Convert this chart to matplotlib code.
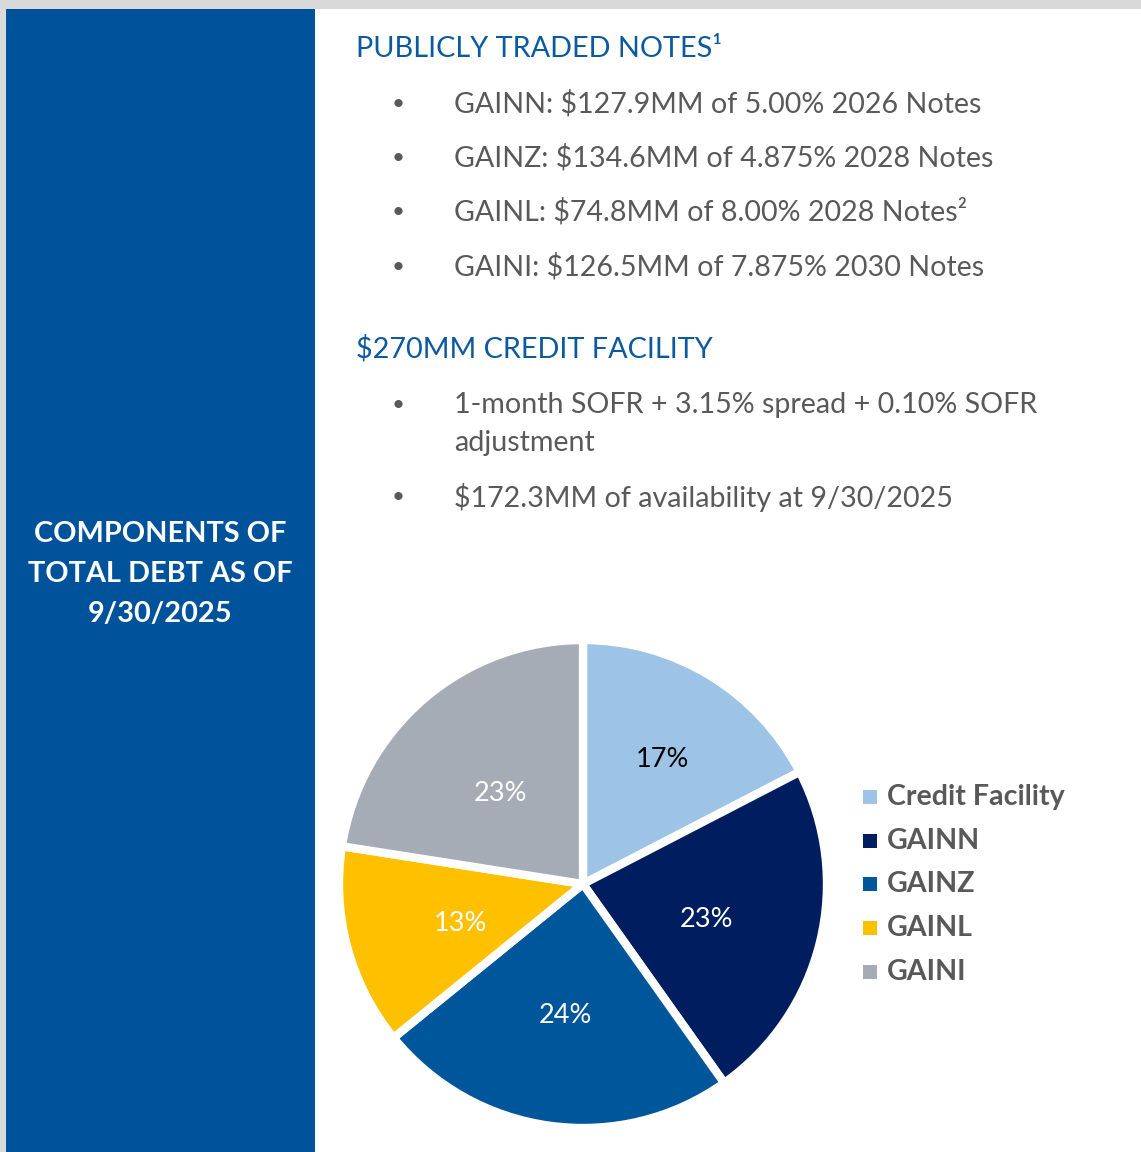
import matplotlib
matplotlib.use("Agg")
import matplotlib.pyplot as plt
from matplotlib.patches import Rectangle

W, H = 1141, 1152
DPI = 100

# ---- data ----
categories = ["Credit Facility", "GAINN", "GAINZ", "GAINL", "GAINI"]
amounts_mm = [97.7, 127.9, 134.6, 74.8, 126.5]
colors = ["#9DC3E6", "#001E5F", "#00569A", "#FFC000", "#A5ACB5"]
pct_colors = ["#000000", "#FFFFFF", "#FFFFFF", "#FFFFFF", "#FFFFFF"]

notes_header = "PUBLICLY TRADED NOTES\u00b9"
notes_bullets = [
    "GAINN: $127.9MM of 5.00% 2026 Notes",
    "GAINZ: $134.6MM of 4.875% 2028 Notes",
    "GAINL: $74.8MM of 8.00% 2028 Notes\u00b2",
    "GAINI: $126.5MM of 7.875% 2030 Notes",
]
credit_header = "$270MM CREDIT FACILITY"
credit_bullets = [
    "1-month SOFR + 3.15% spread + 0.10% SOFR\nadjustment",
    "$172.3MM of availability at 9/30/2025",
]
side_title = "COMPONENTS OF\nTOTAL DEBT AS OF\n9/30/2025"

FONT = ["Lato", "DejaVu Sans"]
plt.rcParams["font.family"] = FONT

BLUE = "#00539B"
GRAY_TXT = "#595959"

fig = plt.figure(figsize=(W / DPI, H / DPI), dpi=DPI)
fig.patch.set_facecolor("white")

def px(x, y):
    return x / W, 1 - y / H

# frame: gray top band and left edge
fig.patches.append(Rectangle((0, 1 - 9 / H), 1, 9 / H, transform=fig.transFigure,
                             facecolor="#D9D9D9", edgecolor="none", zorder=0))
fig.patches.append(Rectangle((0, 0), 6 / W, 1, transform=fig.transFigure,
                             facecolor="#D9D9D9", edgecolor="none", zorder=0))
# blue side panel
fig.patches.append(Rectangle((6 / W, 0), (315 - 6) / W, 1 - 9 / H, transform=fig.transFigure,
                             facecolor=BLUE, edgecolor="none", zorder=1))

fig.text(*px(160, 574), side_title, color="white", fontsize=20.8, fontweight="bold",
         ha="center", va="center", linespacing=1.66, zorder=3)

# headers and bullets
TS = 20.6
fig.text(*px(356, 49), notes_header, color="#0B5AA0", fontsize=20.8, ha="left", va="center")
ys = [104, 158, 212, 267]
for y, t in zip(ys, notes_bullets):
    fig.text(*px(398, y), "\u2022", color=GRAY_TXT, fontsize=16, ha="center", va="center")
    fig.text(*px(454, y), t, color=GRAY_TXT, fontsize=TS, ha="left", va="center")

fig.text(*px(356, 349), credit_header, color="#0B5AA0", fontsize=20.8, ha="left", va="center")
fig.text(*px(398, 405), "\u2022", color=GRAY_TXT, fontsize=16, ha="center", va="center")
fig.text(*px(454, 392), credit_bullets[0], color=GRAY_TXT, fontsize=TS, ha="left", va="top",
         linespacing=1.55)
fig.text(*px(398, 497), "\u2022", color=GRAY_TXT, fontsize=16, ha="center", va="center")
fig.text(*px(454, 497), credit_bullets[1], color=GRAY_TXT, fontsize=TS, ha="left", va="center")

# pie
cx, cy, R = 583, 884, 244
ax = fig.add_axes([(cx - R) / W, (H - cy - R) / H, 2 * R / W, 2 * R / H])
wedges, texts, autotexts = ax.pie(
    amounts_mm, colors=colors, startangle=90, counterclock=False, radius=1,
    autopct="%1.0f%%", pctdistance=0.52,
    wedgeprops=dict(edgecolor="white", linewidth=6),
    textprops=dict(fontsize=19.5),
)
ax.set_xlim(-1, 1)
ax.set_ylim(-1, 1)
ax.set_aspect("equal")
ax.axis("off")
for t, c in zip(autotexts, pct_colors):
    t.set_color(c)
x0, y0 = autotexts[0].get_position()
autotexts[0].set_position((x0 * 1.2, y0 * 1.2))
dy = 6 / R
for t in autotexts:
    x, y = t.get_position()
    t.set_position((x, y - dy))

# legend
ly = [797, 841, 884, 928, 972]
for y, lab, c in zip(ly, categories, colors):
    fig.patches.append(Rectangle(((863) / W, 1 - (y + 7) / H), 14 / W, 14 / H,
                                 transform=fig.transFigure, facecolor=c, edgecolor="none"))
    fig.text(*px(887, y), lab, color=GRAY_TXT, fontsize=20.6, fontweight="bold",
             ha="left", va="center")

fig.savefig("out.png", dpi=DPI)
